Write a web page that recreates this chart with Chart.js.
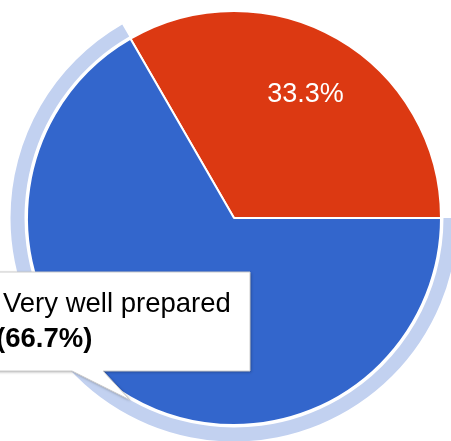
<!DOCTYPE html>
<html lang="en">
<head>
    <meta charset="UTF-8">
    <title>Preparedness</title>
    <script src="https://cdn.jsdelivr.net/npm/chart.js"></script>
    <style>
        body {
            margin: 0;
            background: #fff;
        }
        #chart-container {
            width: 451px;
            height: 441px;
        }
    </style>
    <script type="text/javascript">
        // answers, red slice first so it sits between -30deg and 90deg
        var categories = ['Somewhat prepared', 'Very well prepared'];
        var responses = [1, 2];
        var sliceColors = ['#dc3912', '#3366cc'];
        var ringColor = '#c2d1f0';
        var hoveredIndex = 1;

        function pct(i) {
            var total = responses.reduce(function(a, b) { return a + b; }, 0);
            return (responses[i] / total * 100).toFixed(1) + '%';
        }

        // light ring around the hovered slice
        var hoverRing = {
            id: 'hoverRing',
            beforeDatasetsDraw: function(chart) {
                var arc = chart.getDatasetMeta(0).data[hoveredIndex];
                var ctx = chart.ctx;
                ctx.save();
                ctx.beginPath();
                ctx.arc(arc.x, arc.y, arc.outerRadius + 16.5, arc.startAngle, arc.endAngle);
                ctx.arc(arc.x, arc.y, arc.outerRadius + 2.5, arc.endAngle, arc.startAngle, true);
                ctx.closePath();
                ctx.fillStyle = ringColor;
                ctx.fill();
                ctx.restore();
            }
        };

        // percentage labels inside the slices
        var sliceLabels = {
            id: 'sliceLabels',
            afterDatasetsDraw: function(chart) {
                var ctx = chart.ctx;
                var arcs = chart.getDatasetMeta(0).data;
                ctx.save();
                ctx.font = '27px Arial, "Liberation Sans", sans-serif';
                ctx.fillStyle = '#fff';
                ctx.textAlign = 'center';
                ctx.textBaseline = 'middle';
                arcs.forEach(function(arc, i) {
                    if (i === hoveredIndex) return;
                    var mid = (arc.startAngle + arc.endAngle) / 2;
                    var r = arc.outerRadius * 0.69;
                    ctx.fillText(pct(i), arc.x + Math.cos(mid) * r, arc.y + Math.sin(mid) * r);
                });
                ctx.restore();
            }
        };

        // google style tooltip for the hovered slice
        var hoverTip = {
            id: 'hoverTip',
            afterDraw: function(chart) {
                var ctx = chart.ctx;
                ctx.save();
                ctx.beginPath();
                ctx.moveTo(-30, 272);
                ctx.lineTo(250, 272);
                ctx.lineTo(250, 371);
                ctx.lineTo(103, 371);
                ctx.lineTo(130, 400);
                ctx.lineTo(72, 371);
                ctx.lineTo(-30, 371);
                ctx.closePath();
                ctx.shadowColor = 'rgba(0,0,0,0.35)';
                ctx.shadowBlur = 3;
                ctx.shadowOffsetX = 1;
                ctx.shadowOffsetY = 1;
                ctx.fillStyle = '#fff';
                ctx.fill();
                ctx.shadowColor = 'transparent';
                ctx.strokeStyle = '#cccccc';
                ctx.lineWidth = 1;
                ctx.stroke();

                ctx.fillStyle = '#000';
                ctx.textAlign = 'left';
                ctx.textBaseline = 'alphabetic';
                ctx.font = '27.5px Arial, "Liberation Sans", sans-serif';
                ctx.fillText(categories[hoveredIndex], 3, 312);
                ctx.font = 'bold 27.5px Arial, "Liberation Sans", sans-serif';
                ctx.fillText('(' + pct(hoveredIndex) + ')', -4, 347);
                ctx.restore();
            }
        };

        document.addEventListener('DOMContentLoaded', function() {
            var ctx = document.getElementById('chart').getContext('2d');
            new Chart(ctx, {
                type: 'pie',
                data: {
                    labels: categories,
                    datasets: [{
                        data: responses,
                        backgroundColor: sliceColors,
                        borderColor: '#fff',
                        borderWidth: 2,
                        hoverOffset: 0
                    }]
                },
                options: {
                    responsive: false,
                    animation: false,
                    rotation: -30,
                    events: [],
                    layout: {
                        padding: { left: 26, right: 9, top: 10, bottom: 15 }
                    },
                    plugins: {
                        legend: { display: false },
                        tooltip: { enabled: false }
                    }
                },
                plugins: [hoverRing, sliceLabels, hoverTip]
            });
        });
    </script>
</head>
<body>
    <div id="chart-container">
        <canvas id="chart" width="451" height="441"></canvas>
    </div>
</body>
</html>
